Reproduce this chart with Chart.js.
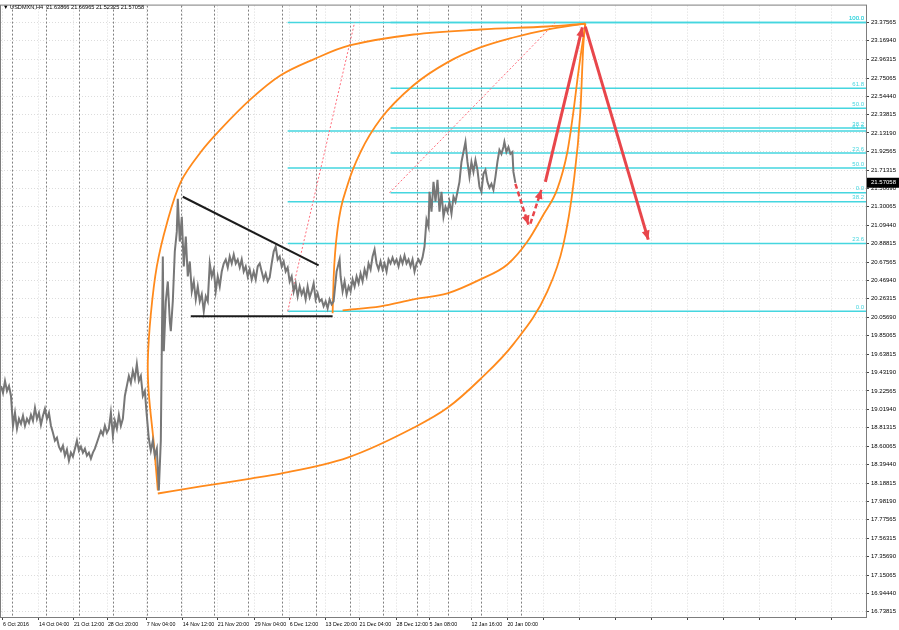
<!DOCTYPE html>
<html>
<head>
<meta charset="utf-8">
<script src="https://cdn.jsdelivr.net/npm/chart.js@4.4.1/dist/chart.umd.min.js"></script>
<style>
  body { margin: 0; background: #fff; }
  #wrap { position: relative; width: 899px; height: 630px; }
  #title { position: absolute; left: 3px; top: 4px; font: 5.6px "Liberation Sans", Arial, sans-serif; color: #000; white-space: pre; }
</style>
</head>
<body>
<div id="wrap">
  <canvas id="chart" width="899" height="630"></canvas>
  <div id="title">▼ USDMXN,H4  21.63866 21.66965 21.52325 21.57058</div>
</div>
<script>
// USDMXN H4 - bar positions and closing prices
const barPos = [0,2,4,6,8,10,12,14,16,18,20,22,24,26,28,30,32,34,36,38,40,42,44,46,48,50,52,54,56,58,60,62,64,66,68,70,72,74,76,78,80,82,84,86,88,90,92,94,96,98,100,102,104,106,108,110,112,114,116,118,120,122,124,126,128,130,132,134,136,138,140,142,144,146,148,150,152,154,156,158,160,161,162,163,165,167,169,170,172,174,176,177,179,181,183,185,187,189,191,193,195,197,199,201,203,205,207,209,211,213,215,217,219,221,223,225,227,229,231,233,235,237,239,241,243,245,247,249,251,253,255,257,259,261,263,265,267,269,271,273,275,277,279,281,283,285,287,289,291,293,295,297,299,301,303,305,307,309,311,313,315,317,319,321,323,325,327,329,331,333,334,336,338,339,340,342,344,346,348,350,352,354,356,358,360,362,364,366,368,370,372,374,376,378,380,382,384,386,388,390,392,394,396,398,400,402,404,406,408,410,412,414,416,418,420,422,424,426,428,429,431,433,435,437,439,441,443,445,447,449,451,453,455,457,459,461,463,465,467,469,471,473,475,477,479,481,483,485,487,489,491,493,495,497,499,501,503,504,506,508,510,512,513,515];
const closes = [19.282,19.203,19.338,19.225,19.282,19.169,18.833,18.979,18.799,18.911,18.855,18.945,18.833,18.911,18.866,18.956,18.889,19.035,18.911,18.979,18.844,18.945,19.024,18.911,18.979,18.833,18.754,18.665,18.698,18.597,18.552,18.608,18.496,18.564,18.440,18.530,18.485,18.575,18.665,18.552,18.597,18.530,18.575,18.496,18.530,18.463,18.530,18.575,18.642,18.709,18.777,18.732,18.833,18.754,18.799,18.979,18.721,18.889,18.799,18.956,18.833,18.911,19.169,19.282,19.394,19.315,19.450,19.360,19.528,19.338,19.394,19.169,19.225,18.945,18.687,18.552,18.665,18.496,18.575,18.104,18.665,19.730,20.740,19.674,20.235,20.459,20.011,19.898,20.235,20.796,21.020,21.390,20.908,21.188,20.628,20.964,20.515,20.684,20.347,20.459,20.257,20.403,20.235,20.313,20.123,20.291,20.235,20.661,20.515,20.594,20.347,20.515,20.403,20.571,20.661,20.706,20.616,20.740,20.661,20.762,20.661,20.706,20.616,20.706,20.571,20.628,20.515,20.594,20.482,20.571,20.482,20.628,20.661,20.571,20.482,20.549,20.459,20.504,20.661,20.796,20.852,20.706,20.740,20.628,20.684,20.571,20.616,20.459,20.515,20.347,20.437,20.291,20.403,20.313,20.370,20.257,20.403,20.280,20.347,20.437,20.257,20.325,20.235,20.257,20.179,20.235,20.156,20.257,20.201,20.235,20.347,20.571,20.661,20.706,20.515,20.347,20.459,20.313,20.403,20.347,20.482,20.403,20.515,20.437,20.549,20.459,20.594,20.515,20.661,20.594,20.740,20.818,20.661,20.594,20.684,20.594,20.661,20.571,20.706,20.661,20.728,20.661,20.706,20.628,20.728,20.661,20.751,20.661,20.706,20.628,20.706,20.571,20.661,20.706,20.661,20.728,20.852,21.155,21.076,21.469,21.244,21.581,21.357,21.603,21.244,21.469,21.188,21.301,21.244,21.357,21.222,21.413,21.357,21.469,21.581,21.805,21.917,22.030,21.805,21.637,21.805,21.693,21.828,21.716,21.525,21.469,21.671,21.716,21.581,21.514,21.558,21.491,21.637,21.805,21.940,21.895,21.973,22.030,21.917,21.973,21.895,21.917,21.693,21.570];
const lastPrice = 21.57058;

// axis ticks
const yTicks = [23.37565,23.16940,22.96315,22.75065,22.54440,22.33815,22.13190,21.92565,21.71315,21.50690,21.30065,21.09440,20.88815,20.67565,20.46940,20.26315,20.05690,19.85065,19.63815,19.43190,19.22565,19.01940,18.81315,18.60065,18.39440,18.18815,17.98190,17.77565,17.56315,17.35690,17.15065,16.94440,16.73815];
const xTickPos = [2,38,73,107,146,182,217,254,289,325,359,396,429,471,507,543,579,615,651,687,723,759,795,831];
const xTickLabels = ['6 Oct 2016','14 Oct 04:00','21 Oct 12:00','28 Oct 20:00','7 Nov 04:00','14 Nov 12:00','21 Nov 20:00','29 Nov 04:00','6 Dec 12:00','13 Dec 20:00','21 Dec 04:00','28 Dec 12:00','5 Jan 08:00','12 Jan 16:00','20 Jan 00:00'];
const weekSeparators = [11,45,78,112,146,180,213,247,281,315,349,382,416,448,481,521];

// fibonacci retracements
const fibLevels = ['0.0','23.6','38.2','50.0','61.8','100.0'];
const fibAStart = 287;
const fibAPrices = [20.123,20.885,21.357,21.738,22.155,23.376];
const fibBStart = 390;
const fibBPrices = [21.458,21.906,22.187,22.411,22.636,23.376];
const fibATrend = [[287,20.123],[354,23.376]];
const fibBTrend = [[389,21.458],[555,23.376]];

// fibonacci arcs (orange)
const arcOuterUp = [[157,18.104],[153,18.631],[148,19.192],[147,19.562],[150,20.089],[156,20.628],[166,21.110],[180,21.581],[200,21.917],[220,22.175],[250,22.512],[280,22.781],[313,22.961],[349,23.118],[413,23.241],[480,23.297],[547,23.331],[585,23.364]];
const arcOuterLow = [[157,18.070],[200,18.149],[250,18.238],[280,18.294],[347,18.474],[413,18.810],[447,19.035],[480,19.360],[513,19.753],[547,20.347],[563,20.874],[573,21.547],[580,22.366],[583,23.118],[585,23.364]];
const arcInnerUp = [[332,20.100],[333,20.493],[337,21.054],[347,21.547],[360,21.917],[380,22.288],[413,22.669],[447,22.927],[480,23.095],[513,23.207],[547,23.297],[585,23.364]];
const arcInnerLow = [[342,20.134],[380,20.179],[413,20.257],[447,20.325],[480,20.482],[507,20.650],[527,20.908],[543,21.211],[557,21.502],[567,21.917],[573,22.366],[578,22.815],[585,23.364]];

// triangle lines (black)
const triangleTop = [[182,21.413],[318,20.639]];
const triangleBase = [[190,20.067],[332,20.067]];

// forecast arrows (red)
const arrowUp = [[545,21.581],[582,23.320]];
const arrowDown = [[585,23.330],[648,20.930]];
const dashDown = [[515,21.558],[528,21.099]];
const dashUp = [[530,21.110],[541,21.491]];

const pts = arr => arr.map(p => ({x: p[0], y: p[1]}));
const FONT = '"Liberation Sans", Arial, sans-serif';
const CYAN = '#45d6df';
const ORANGE = '#ff8a1c';

const datasets = [];
datasets.push({ data: pts(arrowUp), borderColor: '#e8464b', borderWidth: 3, arrow: true, order: 0 });
datasets.push({ data: pts(arrowDown), borderColor: '#e8464b', borderWidth: 3, arrow: true, order: 0 });
datasets.push({ data: pts(dashDown), borderColor: '#e8464b', borderWidth: 2.5, borderDash: [5, 3], arrow: true, order: 0 });
datasets.push({ data: pts(dashUp), borderColor: '#e8464b', borderWidth: 2.5, borderDash: [5, 3], arrow: true, order: 0 });
datasets.push({ data: pts(triangleTop), borderColor: '#1c1c1c', borderWidth: 2, order: 1 });
datasets.push({ data: pts(triangleBase), borderColor: '#1c1c1c', borderWidth: 2, order: 1 });
datasets.push({ data: barPos.map((b, i) => ({x: b, y: closes[i]})), borderColor: '#777777', borderWidth: 2, order: 2 });
// outer upper arc doubles back on itself, so plain tension; the others run left to right
datasets.push({ data: pts(arcOuterUp), borderColor: ORANGE, borderWidth: 1.8, tension: 0.35, order: 3 });
[arcOuterLow, arcInnerUp, arcInnerLow].forEach(a => {
  datasets.push({ data: pts(a), borderColor: ORANGE, borderWidth: 1.8, cubicInterpolationMode: 'monotone', order: 3 });
});
[fibATrend, fibBTrend].forEach(t => {
  datasets.push({ data: pts(t), borderColor: '#ff6b7a', borderWidth: 1, borderDash: [2, 2], order: 4 });
});
fibAPrices.forEach(p => datasets.push({ data: [{x: fibAStart, y: p}, {x: 866, y: p}], borderColor: CYAN, borderWidth: 1.5, order: 5 }));
fibBPrices.forEach(p => datasets.push({ data: [{x: fibBStart, y: p}, {x: 866, y: p}], borderColor: CYAN, borderWidth: 1.5, order: 5 }));

const mt4Extras = {
  id: 'mt4Extras',
  beforeDatasetsDraw(chart) {
    const {ctx, chartArea, scales} = chart;
    ctx.save();
    ctx.strokeStyle = '#808080';
    ctx.lineWidth = 1;
    ctx.setLineDash([2, 2]);
    weekSeparators.forEach(w => {
      const x = Math.round(scales.x.getPixelForValue(w)) + 0.5;
      ctx.beginPath();
      ctx.moveTo(x, chartArea.top);
      ctx.lineTo(x, chartArea.bottom);
      ctx.stroke();
    });
    ctx.restore();
  },
  afterDatasetsDraw(chart) {
    const {ctx, chartArea, scales} = chart;
    ctx.save();
    // arrow heads
    chart.data.datasets.forEach((ds, i) => {
      if (!ds.arrow) return;
      const el = chart.getDatasetMeta(i).data;
      const a = el[el.length - 2], b = el[el.length - 1];
      const ang = Math.atan2(b.y - a.y, b.x - a.x);
      const len = 9, half = 4;
      ctx.fillStyle = ds.borderColor;
      ctx.beginPath();
      ctx.moveTo(b.x, b.y);
      ctx.lineTo(b.x - len * Math.cos(ang) + half * Math.sin(ang), b.y - len * Math.sin(ang) - half * Math.cos(ang));
      ctx.lineTo(b.x - len * Math.cos(ang) - half * Math.sin(ang), b.y - len * Math.sin(ang) + half * Math.cos(ang));
      ctx.closePath();
      ctx.fill();
    });
    // fib level labels
    ctx.font = '6px ' + FONT;
    ctx.fillStyle = CYAN;
    ctx.textAlign = 'right';
    ctx.textBaseline = 'bottom';
    [fibAPrices, fibBPrices].forEach(prices => {
      prices.forEach((p, k) => {
        ctx.fillText(fibLevels[k], chartArea.right - 2, scales.y.getPixelForValue(p) - 1);
      });
    });
    // chart frame
    ctx.strokeStyle = '#7d7d7d';
    ctx.lineWidth = 1;
    ctx.strokeRect(chartArea.left - 0.5, chartArea.top - 0.5, chartArea.right - chartArea.left + 1, chartArea.bottom - chartArea.top + 1);
    ctx.restore();
  },
  afterDraw(chart) {
    const {ctx, chartArea, scales} = chart;
    const y = scales.y.getPixelForValue(lastPrice);
    ctx.save();
    ctx.fillStyle = '#000';
    ctx.fillRect(chartArea.right + 1, y - 5, 32, 10);
    ctx.fillStyle = '#fff';
    ctx.font = '6px ' + FONT;
    ctx.textBaseline = 'middle';
    ctx.fillText(lastPrice.toFixed(5), chartArea.right + 5, y);
    ctx.restore();
  }
};

new Chart(document.getElementById('chart'), {
  type: 'line',
  data: { datasets },
  options: {
    responsive: false,
    animation: false,
    layout: { padding: { left: 1, top: 3, right: 0, bottom: 0 } },
    elements: { point: { radius: 0 }, line: { tension: 0, fill: false } },
    plugins: { legend: { display: false }, tooltip: { enabled: false } },
    scales: {
      x: {
        type: 'linear',
        min: 0,
        max: 866,
        afterBuildTicks: s => { s.ticks = xTickPos.map(v => ({ value: v })); },
        afterFit: s => { s.height = 13; },
        ticks: {
          autoSkip: false,
          maxRotation: 0,
          align: 'start',
          padding: 1,
          color: '#000',
          font: { family: FONT, size: 5.3 },
          callback: (v, i) => xTickLabels[i] || ''
        },
        grid: { color: '#dcdcdc', tickLength: 3, tickColor: '#444' },
        border: { color: '#7d7d7d', dash: [1, 2] }
      },
      y: {
        position: 'right',
        min: 16.6787,
        max: 23.5664,
        afterBuildTicks: s => { s.ticks = yTicks.map(v => ({ value: v })); },
        afterFit: s => { s.width = 33; },
        ticks: {
          autoSkip: false,
          padding: 2,
          color: '#000',
          font: { family: FONT, size: 6 },
          callback: v => v.toFixed(5)
        },
        grid: { color: '#dcdcdc', tickLength: 3, tickColor: '#444' },
        border: { color: '#7d7d7d', dash: [1, 2] }
      }
    }
  },
  plugins: [mt4Extras]
});
</script>
</body>
</html>
